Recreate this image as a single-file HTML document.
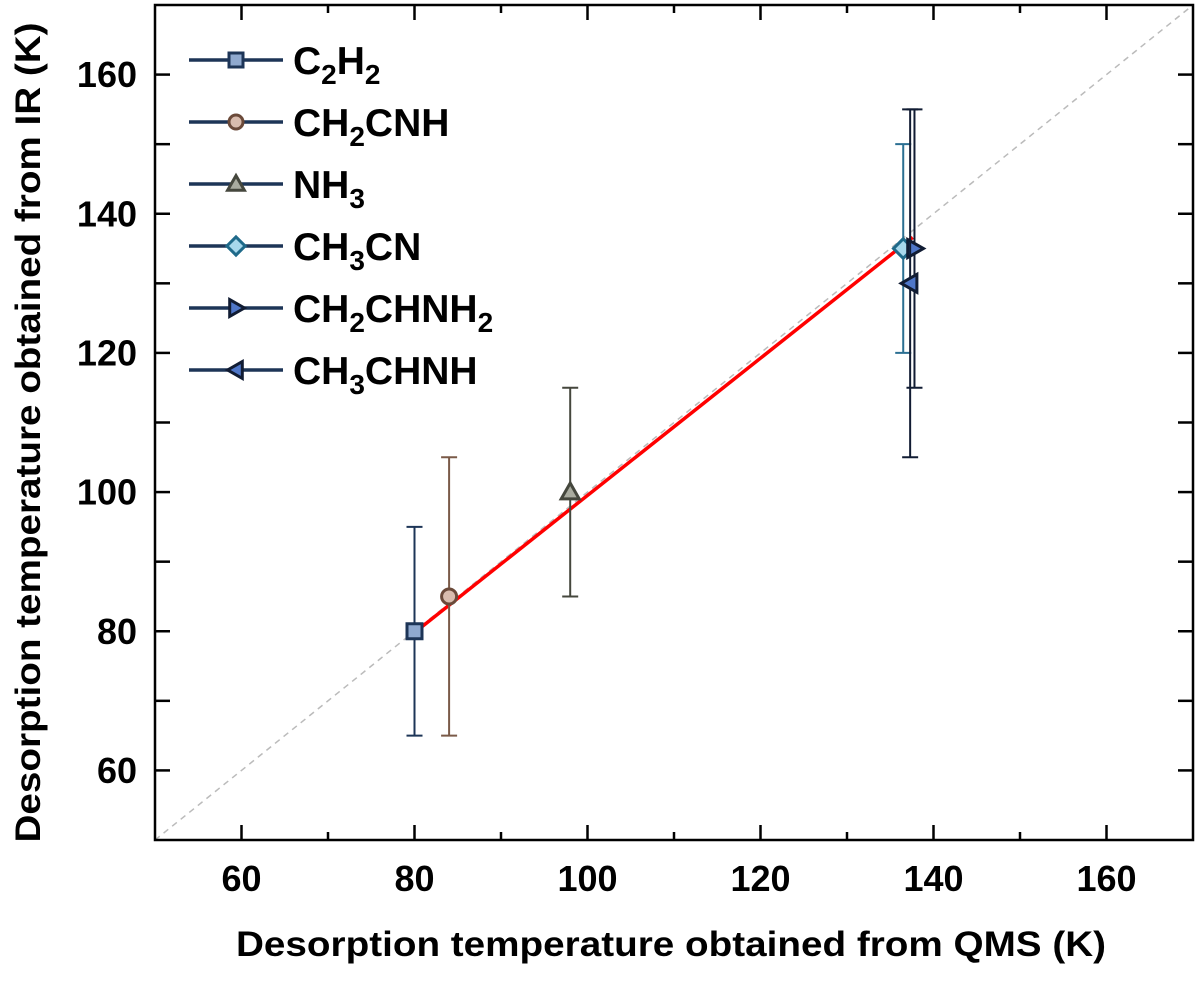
<!DOCTYPE html>
<html><head><meta charset="utf-8"><style>
body{margin:0;background:#fff;}
svg text{font-family:"Liberation Sans",Arial,sans-serif;font-weight:bold;}
</style></head><body>
<svg id="chart" width="1200" height="977" viewBox="0 0 1200 977" xmlns="http://www.w3.org/2000/svg"></svg>
<script>
const names=["C2H2","CH2CNH","NH3","CH3CN","CH2CHNH2","CH3CHNH"];
const labelsHtml=[["C","2","H","2"],["CH","2","CNH"],["NH","3"],["CH","3","CN"],["CH","2","CHNH","2"],["CH","3","CHNH"]];
const xVals=[80,84,98,136.5,137.8,137.3];
const yVals=[80,85,100,135,135,130];
const errLow=[65,65,85,120,115,105];
const errHigh=[95,105,115,150,155,155];
const fitX=[80,137.6];
const fitY=[79.8,136.6];
const ticks=[60,80,100,120,140,160];
const minorTicks=[70,90,110,130,150];
const markers=["square","circle","triangle","diamond","right","left"];
const fills=["#8fa9cf","#d9bcae","#a9ab9f","#a8d8ec","#4f77c9","#4f77c9"];
const strokes=["#1d3557","#6b4a3a","#45473d","#1f6a8a","#111c33","#111c33"];
const errColors=["#1d3557","#7a5a48","#45473d","#2b6f92","#111c33","#111c33"];

const svg=document.getElementById('chart');
const NS="http://www.w3.org/2000/svg";
const L=155,R=1193,T=5,B=840,X0=50,X1=170,Y0=50,Y1=170;
const sx=v=>L+(v-X0)/(X1-X0)*(R-L);
const sy=v=>B-(v-Y0)/(Y1-Y0)*(B-T);
function mk(tag,attrs,parent){const e=document.createElementNS(NS,tag);for(const k in attrs)e.setAttribute(k,attrs[k]);(parent||svg).appendChild(e);return e;}

let d=mk('line',{x1:sx(50),y1:sy(50),x2:sx(170),y2:sy(170),stroke:'#bbb','stroke-width':1.5,'stroke-dasharray':'6,5'});



let f=mk('line',{x1:sx(fitX[0]),y1:sy(fitY[0]),x2:sx(fitX[1]),y2:sy(fitY[1]),stroke:'#ff0000','stroke-width':3.5});



function marker(type,cx,cy,s,fill,stroke,parent){
  let e;
  if(type==='square')e=mk('rect',{x:cx-s,y:cy-s,width:2*s,height:2*s},parent);
  else if(type==='circle')e=mk('circle',{cx,cy,r:s},parent);
  else if(type==='triangle')e=mk('polygon',{points:`${cx},${cy-s*1.2} ${cx-s*1.2},${cy+s*0.9} ${cx+s*1.2},${cy+s*0.9}`},parent);
  else if(type==='diamond')e=mk('polygon',{points:`${cx},${cy-s*1.3} ${cx+s*1.3},${cy} ${cx},${cy+s*1.3} ${cx-s*1.3},${cy}`},parent);
  else if(type==='right')e=mk('polygon',{points:`${cx-s*0.9},${cy-s*1.2} ${cx+s*1.2},${cy} ${cx-s*0.9},${cy+s*1.2}`},parent);
  else e=mk('polygon',{points:`${cx+s*0.9},${cy-s*1.2} ${cx-s*1.2},${cy} ${cx+s*0.9},${cy+s*1.2}`},parent);
  e.setAttribute('fill',fill);e.setAttribute('stroke',stroke);e.setAttribute('stroke-width',3);
  return e;
}

for(let i=0;i<names.length;i++){
  const g=mk('g',{});
  
  
  const x=sx(xVals[i]);
  const eb=mk('g',{stroke:errColors[i],'stroke-width':2,fill:'none'},g);
  
  
  mk('line',{x1:x,y1:sy(errLow[i]),x2:x,y2:sy(errHigh[i])},eb);
  mk('line',{x1:x-8,y1:sy(errLow[i]),x2:x+8,y2:sy(errLow[i])},eb);
  mk('line',{x1:x-8,y1:sy(errHigh[i]),x2:x+8,y2:sy(errHigh[i])},eb);
  const m=marker(markers[i],x,sy(yVals[i]),7.5,fills[i],strokes[i],g);
  
  
}

let fr=mk('rect',{x:L,y:T,width:R-L,height:B-T,fill:'none',stroke:'#000','stroke-width':2.5});



const xa=mk('g',{stroke:'#000','stroke-width':2.5});


const ya=mk('g',{stroke:'#000','stroke-width':2.5});


ticks.forEach(t=>{
  mk('line',{x1:sx(t),y1:B,x2:sx(t),y2:B-15},xa);
  mk('line',{x1:sx(t),y1:T,x2:sx(t),y2:T+15},xa);
  mk('line',{x1:L,y1:sy(t),x2:L+15,y2:sy(t)},ya);
  mk('line',{x1:R,y1:sy(t),x2:R-15,y2:sy(t)},ya);
  const tx=mk('text',{x:sx(t),y:B+51,'text-anchor':'middle','font-size':36,fill:'#000',stroke:'none'},xa);
  tx.textContent=t;
  
  
  const ty=mk('text',{x:L-18,y:sy(t)+12.5,'text-anchor':'end','font-size':36,fill:'#000',stroke:'none'},ya);
  ty.textContent=t;
  
  
});
minorTicks.forEach(t=>{
  mk('line',{x1:sx(t),y1:B,x2:sx(t),y2:B-8},xa);
  mk('line',{x1:sx(t),y1:T,x2:sx(t),y2:T+8},xa);
  mk('line',{x1:L,y1:sy(t),x2:L+15,y2:sy(t)},ya);
  mk('line',{x1:R,y1:sy(t),x2:R-15,y2:sy(t)},ya);
});

let xt=mk('text',{x:(L+R)/2-3,y:956,'text-anchor':'middle','font-size':35,fill:'#000',textLength:870,lengthAdjust:'spacingAndGlyphs'});
xt.textContent='Desorption temperature obtained from QMS (K)';


let yt=mk('text',{x:0,y:0,'text-anchor':'middle','font-size':35,fill:'#000',textLength:820,lengthAdjust:'spacingAndGlyphs',transform:`translate(40,${(T+B)/2+10}) rotate(-90)`});
yt.textContent='Desorption temperature obtained from IR (K)';



const lg=mk('g',{});


for(let i=0;i<names.length;i++){
  const y=60+i*62;
  const en=mk('g',{},lg);
  
  
  mk('line',{x1:189,y1:y,x2:283,y2:y,stroke:'#1d3557','stroke-width':3.5},en);
  marker(markers[i],236,y,7,fills[i],strokes[i],en);
  const t=mk('text',{x:293,y:y+14,'font-size':39,fill:'#000'},en);
  labelsHtml[i].forEach((p,j)=>{
    const s=mk('tspan',{},t);
    s.textContent=p;
    if(j%2===1){s.setAttribute('font-size',28);s.setAttribute('dy',10);}
    else if(j>0){s.setAttribute('dy',-10);}
  });
}
</script>
</body></html>
